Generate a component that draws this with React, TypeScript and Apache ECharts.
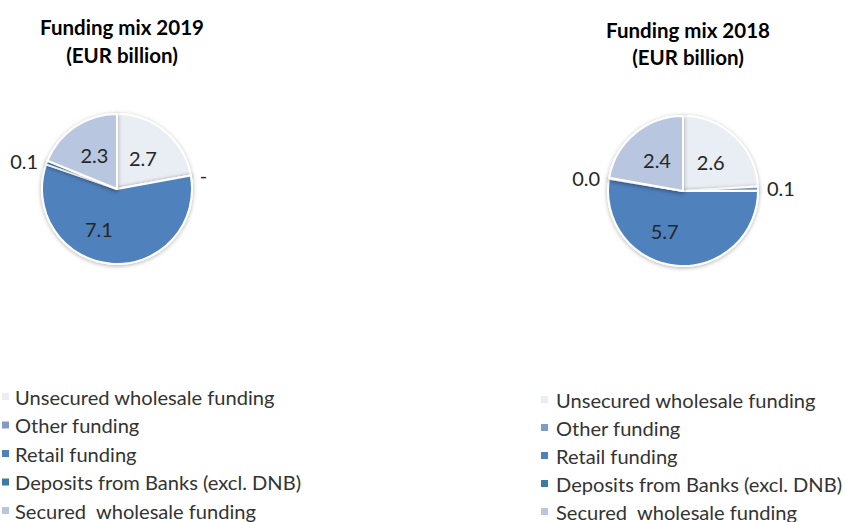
import React, { useEffect, useRef } from "react";
import * as echarts from "echarts";

const categories = [
  "Unsecured wholesale funding",
  "Other funding",
  "Retail funding",
  "Deposits from Banks (excl. DNB)",
  "Secured  wholesale funding",
];
const colors = ["#e9edf4", "#7f9dc3", "#4f81bd", "#3f7ba1", "#b9c6df"];
const values2019 = [2.7, 0, 7.1, 0.1, 2.3];
const values2018 = [2.6, 0.1, 5.7, 0.02, 2.4];
const titles = ["Funding mix 2019\n(EUR billion)", "Funding mix 2018\n(EUR billion)"];
// label placement: inside for large slices, outside for tiny ones
const outsideLabel = [false, true, false, true, false];

const FONT = "Lato, 'Noto Sans', sans-serif";

function buildData(values: number[]) {
  return values.map((v, i) => ({
    name: categories[i],
    value: v,
    itemStyle: { color: colors[i] },
    label: outsideLabel[i]
      ? { position: "outside" }
      : { position: "inside", offset: i === 2 ? [-15, 0] : [0, 0] },
  }));
}

function fmt(p: any) {
  return p.value === 0 ? "-" : Number(p.value).toFixed(1);
}

function pieSeries(values: number[], center: [number, number]) {
  return {
    type: "pie",
    center,
    radius: 75,
    startAngle: 90,
    clockwise: true,
    minAngle: 0,
    avoidLabelOverlap: false,
    stillShowZeroSum: true,
    itemStyle: {
      borderColor: "#ffffff",
      borderWidth: 2,
      shadowBlur: 4,
      shadowColor: "rgba(0,0,0,0.3)",
      shadowOffsetY: 1,
    },
    label: {
      formatter: fmt,
      fontFamily: FONT,
      fontSize: 20,
      color: "#262626",
      distanceToLabelLine: 5,
    },
    labelLine: { show: false, length: 4, length2: 0 },
    emphasis: { disabled: true },
    data: buildData(values),
  };
}

export default function App() {
  const ref = useRef<HTMLDivElement>(null);
  useEffect(() => {
    if (!ref.current) return;
    const chart = echarts.init(ref.current, undefined, { renderer: "svg" });
    const legendBase = {
      orient: "vertical",
      icon: "rect",
      itemWidth: 9,
      itemHeight: 9,
      padding: 0,
      height: 200,
      selectedMode: false,
      data: categories,
    };
    const titleStyle = { fontFamily: FONT, fontSize: 20.5, fontWeight: "bold", color: "#000" };
    const legendText = { fontFamily: FONT, fontSize: 20.1, color: "#333", lineHeight: 21 };
    chart.setOption({
      animation: false,
      backgroundColor: "#ffffff",
      title: [
        {
          text: titles[0],
          left: 117,
          top: 8,
          textAlign: "center",
          textStyle: { ...titleStyle, lineHeight: 28 },
        },
        {
          text: titles[1],
          left: 683,
          top: 11.5,
          textAlign: "center",
          textStyle: { ...titleStyle, lineHeight: 27 },
        },
      ],
      legend: [
        {
          ...legendBase,
          left: 0,
          top: 386,
          itemGap: 7.5,
          textStyle: legendText,
        },
        {
          ...legendBase,
          left: 539,
          top: 389,
          itemGap: 7,
          textStyle: { ...legendText, padding: [0, 0, 0, 2] },
        },
      ],
      series: [pieSeries(values2019, [117, 189]), pieSeries(values2018, [683, 191])],
    });
    return () => chart.dispose();
  }, []);
  return (
    <div
      ref={ref}
      style={{ position: "absolute", left: 0, top: 0, width: 846, height: 522 }}
    />
  );
}
